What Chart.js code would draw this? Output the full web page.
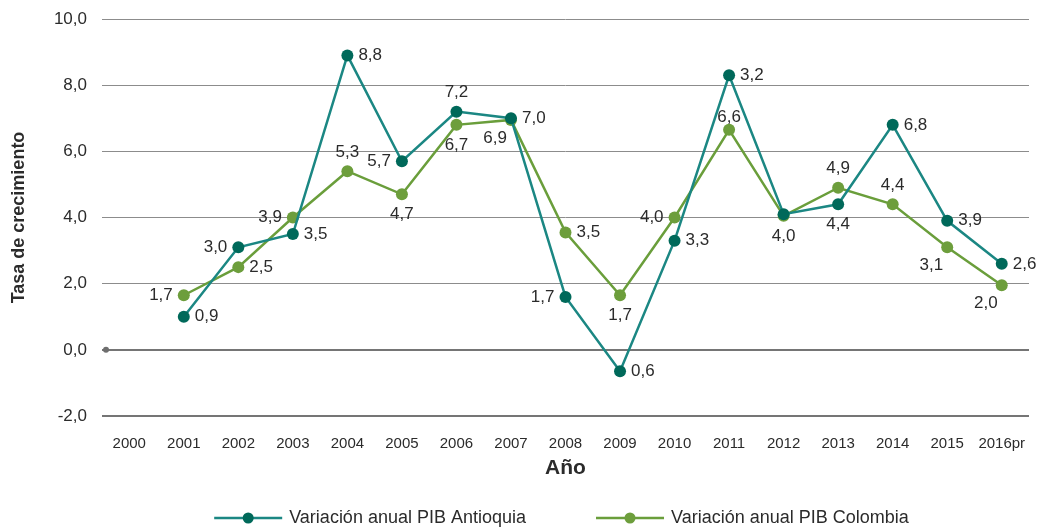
<!DOCTYPE html>
<html>
<head>
<meta charset="utf-8">
<script src="https://cdn.jsdelivr.net/npm/chart.js@4"></script>
<style>
  body { margin: 0; background: #fff; }
  #wrap { width: 1040px; height: 530px; }
</style>
</head>
<body>
<div id="wrap"><canvas id="pib"></canvas></div>
<script>
// categories and series
const years = ['2000', '2001', '2002', '2003', '2004', '2005', '2006', '2007', '2008',
  '2009', '2010', '2011', '2012', '2013', '2014', '2015', '2016pr'];
const antioquia = [null, 1.0, 3.1, 3.5, 8.9, 5.7, 7.2, 7.0, 1.6, -0.65, 3.3, 8.3, 4.1, 4.4, 6.8, 3.9, 2.6];
const colombia = [null, 1.65, 2.5, 4.0, 5.4, 4.7, 6.8, 6.95, 3.55, 1.65, 4.0, 6.65, 4.05, 4.9, 4.4, 3.1, 1.95];
// data label texts as printed on the chart
const antioquiaLabels = ['', '0,9', '3,0', '3,5', '8,8', '5,7', '7,2', '7,0', '1,7', '0,6', '3,3', '3,2', '', '4,4', '6,8', '3,9', '2,6'];
const colombiaLabels = ['', '1,7', '2,5', '3,9', '5,3', '4,7', '6,7', '6,9', '3,5', '1,7', '4,0', '6,6', '4,0', '4,9', '4,4', '3,1', '2,0'];
const yTicks = [-2, 0, 2, 4, 6, 8, 10];

// where each label sits relative to its point
const antPos = ['', 'r', 'l', 'r', 'r', 'l', 'a', 'r', 'l', 'r', 'r', 'r', '', 'b', 'r', 'r', 'r'];
const colPos = ['', 'l', 'r', 'l', 'a', 'b', 'b', 'bl', 'r', 'b', 'l', 'a2', 'b', 'a', 'a', 'bl', 'bl'];

const FONT = "'Liberation Sans', Arial, sans-serif";
const tealLine = '#1b8783';
const tealDot = '#00695a';
const greenLine = '#6a9e3b';
const greenDot = '#6d9e3c';
const textColor = '#2b2b2b';

const pointLabels = {
  id: 'pointLabels',
  afterDatasetsDraw(chart) {
    const ctx = chart.ctx;
    ctx.save();
    ctx.font = '17px ' + FONT;
    ctx.fillStyle = textColor;
    ctx.textBaseline = 'middle';
    const sets = [[antioquiaLabels, antPos], [colombiaLabels, colPos]];
    sets.forEach(([labels, pos], di) => {
      chart.getDatasetMeta(di).data.forEach((pt, i) => {
        const t = labels[i];
        if (!t) return;
        let x = pt.x, y = pt.y;
        const p = pos[i];
        if (p === 'r') { ctx.textAlign = 'left'; x += 11; }
        else if (p === 'l') { ctx.textAlign = 'right'; x -= 11; }
        else if (p === 'a') { ctx.textAlign = 'center'; y -= 19; }
        else if (p === 'a2') { ctx.textAlign = 'center'; y -= 13; }
        else if (p === 'b') { ctx.textAlign = 'center'; y += 20; }
        else if (p === 'bl') { ctx.textAlign = 'right'; x -= 4; y += 18; }
        ctx.fillText(t, x, y);
      });
    });
    ctx.restore();
  }
};

const zeroDot = {
  id: 'zeroDot',
  afterDraw(chart) {
    const ctx = chart.ctx;
    const y = chart.scales.y.getPixelForValue(0);
    ctx.save();
    ctx.fillStyle = '#6e6e6e';
    ctx.beginPath(); ctx.arc(chart.chartArea.left + 4, y, 3, 0, Math.PI * 2); ctx.fill();
    ctx.restore();
  }
};

// legend at the bottom: line with a dot, then the series name
const bottomLegend = {
  id: 'bottomLegend',
  afterDraw(chart) {
    const ctx = chart.ctx;
    const items = chart.data.datasets.map(ds => ({ text: ds.label, line: ds.borderColor, dot: ds.pointBackgroundColor }));
    ctx.save();
    ctx.font = '18px ' + FONT;
    const iconW = 68, gapText = 7, gapItem = 70;
    let total = 0;
    items.forEach((it, i) => {
      it.w = ctx.measureText(it.text).width;
      total += iconW + gapText + it.w + (i ? gapItem : 0);
    });
    const area = chart.chartArea;
    let x = (area.left + area.right) / 2 - total / 2 - 4;
    const y = 518;
    items.forEach(it => {
      ctx.strokeStyle = it.line; ctx.lineWidth = 2.5;
      ctx.beginPath(); ctx.moveTo(x, y); ctx.lineTo(x + iconW, y); ctx.stroke();
      ctx.fillStyle = it.dot;
      ctx.beginPath(); ctx.arc(x + iconW / 2, y, 5.5, 0, Math.PI * 2); ctx.fill();
      ctx.fillStyle = textColor;
      ctx.textAlign = 'left'; ctx.textBaseline = 'middle';
      ctx.fillText(it.text, x + iconW + gapText, y);
      x += iconW + gapText + it.w + gapItem;
    });
    ctx.restore();
  }
};

new Chart(document.getElementById('pib'), {
  type: 'line',
  data: {
    labels: years,
    datasets: [{
      label: 'Variación anual PIB Antioquia',
      data: antioquia,
      borderColor: tealLine,
      pointBackgroundColor: tealDot,
      pointBorderWidth: 0,
      pointRadius: 6,
      borderWidth: 2.5,
      tension: 0
    }, {
      label: 'Variación anual PIB Colombia',
      data: colombia,
      borderColor: greenLine,
      pointBackgroundColor: greenDot,
      pointBorderWidth: 0,
      pointRadius: 6,
      borderWidth: 2.5,
      tension: 0
    }]
  },
  options: {
    responsive: true,
    maintainAspectRatio: false,
    animation: false,
    layout: { padding: { top: 0, right: 11, left: 0, bottom: 40 } },
    plugins: {
      tooltip: { enabled: false },
      legend: { display: false }
    },
    scales: {
      x: {
        offset: true,
        grid: { display: false },
        border: { display: false },
        ticks: { color: textColor, font: { family: FONT, size: 15 }, maxRotation: 0, autoSkip: false, padding: 11 },
        title: { display: true, text: 'Año', color: textColor, font: { family: FONT, size: 21, weight: 'bold' }, padding: { top: 9, bottom: 9 } },
        afterFit(axis) { axis.height = 74; }
      },
      y: {
        min: -2,
        max: 10,
        afterBuildTicks(axis) { axis.ticks = yTicks.map(v => ({ value: v })); },
        afterFit(axis) { axis.width = 102; axis.paddingTop = 19; },
        grid: {
          color: ctx => ctx.tick && (ctx.tick.value === 0 || ctx.tick.value === -2) ? '#757575' : '#8c8c8c',
          lineWidth: ctx => ctx.tick && (ctx.tick.value === 0 || ctx.tick.value === -2) ? 2 : 1,
          drawTicks: false
        },
        border: { display: false },
        ticks: {
          color: textColor,
          padding: 15,
          font: { family: FONT, size: 17 },
          callback: v => v.toFixed(1).replace('.', ',')
        },
        title: { display: true, text: 'Tasa de crecimiento', color: textColor, font: { family: FONT, size: 18, weight: 'bold' }, padding: { top: 8, bottom: 0 } }
      }
    }
  },
  plugins: [pointLabels, zeroDot, bottomLegend]
});
</script>
</body>
</html>
